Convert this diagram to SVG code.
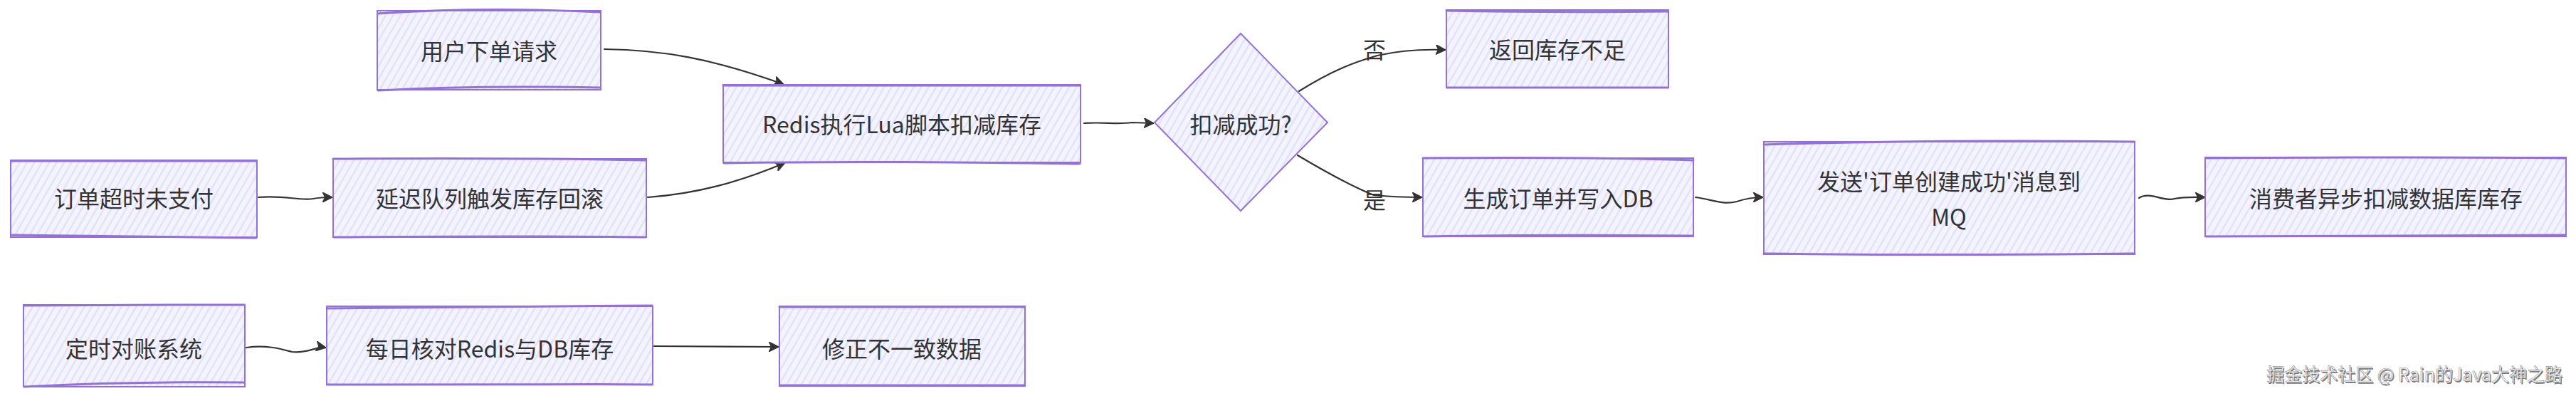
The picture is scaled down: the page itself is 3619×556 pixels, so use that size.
<svg xmlns="http://www.w3.org/2000/svg" width="3619" height="556" viewBox="0 0 3619 556">
<style>
.box{fill:url(#hatch);stroke:#9370DB;stroke-width:2}
.edge{fill:none;stroke:#9370DB;stroke-width:3;stroke-linecap:round}
.lbl{font-family:"Noto Sans CJK SC","Noto Sans",sans-serif;font-size:32px;fill:#333;text-anchor:middle;dominant-baseline:central}
.conn{fill:none;stroke:#333;stroke-width:2.2;stroke-linecap:round}
.wm{font-family:"Noto Sans CJK SC","Noto Sans",sans-serif;font-size:25px;text-anchor:end}
</style>
<defs>
<pattern id="hatch" patternUnits="userSpaceOnUse" width="9" height="9" patternTransform="rotate(30)">
<rect width="9" height="9" fill="#F4F4FF"/>
<line x1="3" y1="0" x2="3" y2="9" stroke="#E1E1FA" stroke-width="2.5"/>
</pattern>
<marker id="arr" viewBox="0 0 12 12" refX="11" refY="6" markerWidth="14" markerHeight="14" markerUnits="userSpaceOnUse" orient="auto">
<path d="M0,0 L12,6 L0,12 L3,6 Z" fill="#333" stroke="#333" stroke-width="1"/>
</marker>
</defs>
<rect width="3619" height="556" fill="#fff"/>

<g id="connectors">
<path class="conn" d="M849,69 C930,70 1000,82 1100,118" marker-end="url(#arr)"/>
<path class="conn" d="M363,277 C400,274 420,282 440,279 C450,277 458,277 466,277" marker-end="url(#arr)"/>
<path class="conn" d="M910,277 C980,272 1040,255 1102,229" marker-end="url(#arr)"/>
<path class="conn" d="M1523,173 C1550,171 1570,175 1590,172 L1620,173" marker-end="url(#arr)"/>
<path class="conn" d="M1825,128 C1870,100 1900,88 1935,78 C1970,70 2000,69 2030,70" marker-end="url(#arr)"/>
<path class="conn" d="M1823,218 C1860,240 1900,262 1930,274 C1960,277 1980,277 1997,277" marker-end="url(#arr)"/>
<path class="conn" d="M2382,277 C2405,280 2420,288 2440,283 C2455,278 2465,277 2476,277" marker-end="url(#arr)"/>
<path class="conn" d="M3005,278 C3020,268 3040,284 3055,279 C3070,276 3085,277 3097,277" marker-end="url(#arr)"/>
<path class="conn" d="M346,488 C375,484 395,490 410,494 C430,497 445,486 457,488" marker-end="url(#arr)"/>
<path class="conn" d="M919,486 L1093,487" marker-end="url(#arr)"/>
<text class="lbl" x="1931" y="68">否</text>
<text class="lbl" x="1931" y="279">是</text>
</g>

<g id="n1">
<rect class="box" x="530" y="15" width="314" height="111"/>
<path class="edge" d="M531,19 C640,12 740,12 843,17 M531,127 C640,121 740,121 843,123"/>
<text class="lbl" x="687" y="70">用户下单请求</text>
</g>
<g id="n2">
<rect class="box" x="1016" y="119" width="502" height="109"/>
<path class="edge" d="M1016,120 L1517,120 M1017,229 C1200,226 1350,228 1517,230"/>
<text class="lbl" x="1267" y="173">Redis执行Lua脚本扣减库存</text>
</g>
<g id="n3">
<polygon class="box" points="1743,47 1865,172 1743,296 1622,172"/>
<text class="lbl" x="1743" y="173">扣减成功?</text>
</g>
<g id="n4">
<rect class="box" x="2032" y="14" width="312" height="109"/>
<path class="edge" d="M2032,15 C2140,17 2240,17 2343,16 M2033,123 L2343,123"/>
<text class="lbl" x="2188" y="68">返回库存不足</text>
</g>
<g id="n5">
<rect class="box" x="1999" y="222" width="380" height="110"/>
<path class="edge" d="M1999,222 C2120,221 2260,221 2379,225 M2000,332 C2130,330 2260,330 2378,331"/>
<text class="lbl" x="2189" y="277">生成订单并写入DB</text>
</g>
<g id="n6">
<rect class="box" x="2478" y="199" width="521" height="158"/>
<path class="edge" d="M2478,203 C2650,198 2820,197 2999,199 M2478,356 C2650,358 2820,358 2999,356"/>
<text class="lbl" x="2738" y="253">发送'订单创建成功'消息到</text>
<text class="lbl" x="2738" y="303">MQ</text>
</g>
<g id="n7">
<rect class="box" x="3098" y="221" width="507" height="111"/>
<path class="edge" d="M3099,222 C3260,221 3430,220 3604,222 M3099,332 C3260,331 3430,330 3604,330"/>
<text class="lbl" x="3352" y="277">消费者异步扣减数据库库存</text>
</g>
<g id="n8">
<rect class="box" x="15" y="225" width="346" height="108"/>
<path class="edge" d="M16,226 L360,226 M16,330 C120,331 240,332 360,334"/>
<text class="lbl" x="188" y="277">订单超时未支付</text>
</g>
<g id="n9">
<rect class="box" x="468" y="223" width="440" height="110"/>
<path class="edge" d="M468,223 C600,222 760,222 907,225 M469,333 C600,332 760,331 907,333"/>
<text class="lbl" x="688" y="277">延迟队列触发库存回滚</text>
</g>
<g id="n10">
<rect class="box" x="33" y="428" width="311" height="115"/>
<path class="edge" d="M34,429 C130,428 240,428 343,428 M34,543 C130,538 240,536 343,537"/>
<text class="lbl" x="188" y="488">定时对账系统</text>
</g>
<g id="n11">
<rect class="box" x="459" y="430" width="458" height="110"/>
<path class="edge" d="M460,433 C600,431 760,430 916,429 M460,540 C600,539 760,539 916,540"/>
<text class="lbl" x="688" y="488">每日核对Redis与DB库存</text>
</g>
<g id="n12">
<rect class="box" x="1095" y="430" width="345" height="112"/>
<path class="edge" d="M1095,431 C1200,430 1320,430 1439,431 M1096,541 C1200,541 1320,541 1439,541"/>
<text class="lbl" x="1267" y="488">修正不一致数据</text>
</g>

<g id="watermark">
<text class="wm" x="3601.5" y="536.5" fill="#777">掘金技术社区 @ Rain的Java大神之路</text>
<text class="wm" x="3600" y="535" fill="#fff" stroke="#9a9a9a" stroke-width="0.7">掘金技术社区 @ Rain的Java大神之路</text>
</g>
</svg>
